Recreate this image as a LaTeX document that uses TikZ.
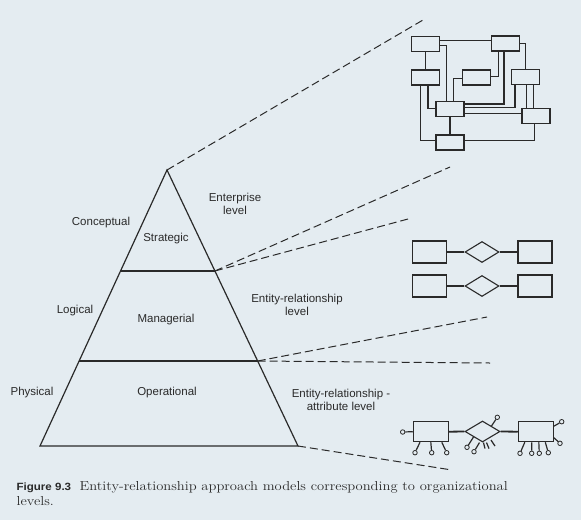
\documentclass[tikz,border=0pt]{standalone}
\usepackage{fontspec}
\setsansfont{Liberation Sans}
\usetikzlibrary{shapes.geometric,calc}
\definecolor{paper}{RGB}{228,236,241}
\definecolor{ink}{RGB}{42,42,42}
\tikzset{
  lbl/.style={font=\sffamily\fontsize{11.5}{12.5}\selectfont,text=ink,inner sep=0pt},
  guide/.style={draw=ink,line width=1pt,dash pattern=on 8pt off 4pt},
  ent/.style={draw=ink,line width=1.3pt,minimum width=28pt,minimum height=15pt,inner sep=0pt},
  bigent/.style={ent,line width=1.1pt,minimum width=34pt,minimum height=22pt},
  rel/.style={draw=ink,line width=1.1pt,diamond,aspect=1.6,minimum width=34pt,minimum height=21pt,inner sep=0pt},
  att/.style={draw=ink,circle,line width=0.8pt,minimum size=4.5pt,inner sep=0pt},
  wire/.style={line width=1.4pt}
}
\begin{document}
\begin{tikzpicture}[x=1pt,y=-1pt,line width=1.2pt,draw=ink]
  \fill[paper] (0,0) rectangle (581,520);

  \coordinate (T) at (167,170);
  \coordinate (SL) at (120.5,271);
  \coordinate (SR) at (214.9,271);
  \coordinate (ML) at (79.1,361);
  \coordinate (MR) at (257.7,361);
  \coordinate (BL) at (40,446);
  \coordinate (BR) at (298,446);

  \draw (T) -- (BL) -- (BR) -- cycle;
  \draw (SL) -- (SR);
  \draw (ML) -- (MR);

  \coordinate (n1) at (423,20);
  \coordinate (n2) at (450,167);
  \coordinate (e1) at (408,219);
  \coordinate (e2) at (487,317);
  \coordinate (p1) at (490,363);
  \coordinate (p2) at (452,470);
  \foreach \a/\b in {T/n1,SR/n2,SR/e1,MR/e2,MR/p1,BR/p2}
    \draw[guide] (\a) -- (\b);

  \node[lbl] (concept) at (101,223) {Conceptual};
  \node[lbl] (strat) at (166,239) {Strategic};
  \node[lbl,align=center] (entlev) at (235,204) {Enterprise\\level};
  \node[lbl] (logic) at (75,311) {Logical};
  \node[lbl] (manag) at (166,320) {Managerial};
  \node[lbl,align=center] (erlev) at (297,305) {Entity-relationship\\level};
  \node[lbl] (phys) at (32,393) {Physical};
  \node[lbl] (oper) at (167,393) {Operational};
  \node[lbl,align=center] (eralev) at (341,400) {Entity-relationship -\\attribute level};

  \foreach \n/\x/\y in {nA/425.5/44,nB/505.5/43.5,nC/425.5/77.5,nD/476.5/77.5,
                        nE/525.5/77.2,nF/450/109,nG/536/116,nH/450/142.5}
    \node[ent] (\n) at (\x,\y) {};

  \begin{scope}[wire]
  \draw ([yshift=3.3pt]nA.east) -- ([yshift=3.3pt]nA.east -| nB.west);
  \draw (nA.south) -- (nC.north);
  \draw ([yshift=-1.5pt]nA.east) -| ([xshift=-3.3pt]nF.north);
  \draw ([yshift=-1pt]nD.west) -| ([xshift=3.3pt]nF.north);
  \draw ([xshift=-5pt]nC.south) |- ([yshift=1.8pt]nH.west);
  \draw ([xshift=2.5pt]nC.south) |- ([yshift=0.7pt]nF.west);
  \draw (nF.south) -- (nH.north);
  \draw ([yshift=1.8pt]nH.east) -| ([xshift=-1.7pt]nG.south);
  \draw (nB.east) -| (nE.north);
  \draw ([xshift=-7.2pt]nB.south) |- ([yshift=0.8pt]nD.east);
  \draw ([xshift=-1.5pt]nB.south) |- ([yshift=5pt]nF.east);
  \draw ([xshift=-10.5pt]nE.south) |- ([yshift=1.7pt]nF.east);
  \draw ([yshift=-4.3pt]nF.east) -- ([yshift=-4.3pt]nF.east -| nG.west);
  \draw ([xshift=1.2pt]nE.south) -- ([xshift=1.2pt]nE.south |- nG.north);
  \draw ([xshift=7.8pt]nE.south) -- ([xshift=7.8pt]nE.south |- nG.north);
  \end{scope}

  \foreach \r/\y in {1/252,2/286} {
    \node[bigent] (r\r l) at (429.7,\y) {};
    \node[rel] (r\r d) at (482,\y) {};
    \node[bigent] (r\r r) at (535,\y) {};
    \draw[line width=1.8pt] (r\r l.east) -- (r\r d.west);
    \draw[line width=1.8pt] (r\r d.east) -- (r\r r.west);
  }

  \node[bigent,minimum width=35pt,minimum height=20pt] (al) at (430.8,431.7) {};
  \node[rel,minimum width=35pt] (ad) at (482.5,431.5) {};
  \node[bigent,minimum width=35pt,minimum height=20pt] (ar) at (535.8,431.7) {};
  \draw[line width=1.8pt] (al.east) -- (ad.west);
  \draw[line width=1.8pt] (ad.east) -- (ar.west);

  \node[att] (al0) at (402.7,432) {};
  \node[att] (al1) at (415,452.7) {};
  \node[att] (al2) at (431.7,452.7) {};
  \node[att] (al3) at (446.7,452.7) {};
  \draw (al0) -- (al.west);
  \draw ([xshift=-10.8pt]al.south) -- (al1);
  \draw (al.south) -- (al2);
  \draw ([xshift=11pt]al.south) -- (al3);

  \node[att] (ad0) at (497.3,417.3) {};
  \node[att] (ad1) at (467,447.3) {};
  \node[att] (ad2) at (474,451.7) {};
  \draw (ad.north east) -- (ad0);
  \draw (ad.south west) -- (ad1);
  \draw ([xshift=-3pt]ad.south) -- (ad2);
  \draw ([xshift=1pt]ad.south) -- ++(1.5,6);
  \draw ([xshift=4pt]ad.south) -- ++(2.5,6);
  \draw ([xshift=8.5pt,yshift=2.5pt]ad.south) -- ++(4,6);

  \node[att] (ar0) at (561.7,421.7) {};
  \node[att] (ar1) at (560,443.3) {};
  \node[att] (ar2) at (520,453.3) {};
  \node[att] (ar3) at (531.7,453.3) {};
  \node[att] (ar4) at (539.3,453.3) {};
  \node[att] (ar5) at (548.3,452.7) {};
  \draw ([yshift=5.5pt]ar.east) -- (ar0);
  \draw ([yshift=-6pt]ar.east) -- (ar1);
  \draw ([xshift=-11pt]ar.south) -- (ar2);
  \draw ([xshift=-4pt]ar.south) -- (ar3);
  \draw ([xshift=3pt]ar.south) -- (ar4);
  \draw ([xshift=9.5pt]ar.south) -- (ar5);

  \node[anchor=base west,inner sep=0pt,text=ink,font=\sffamily\bfseries\fontsize{10.5}{12}\selectfont] (fig) at (16,490)
    {\scalebox{1.1}[1]{Figure 9.3}};
  \node[anchor=base west,inner sep=0pt,text=ink,font=\fontsize{13}{15}\selectfont] (cap1) at (79,490)
    {\scalebox{1.12}[1]{Entity-relationship approach models corresponding to organizational}};
  \node[anchor=base west,inner sep=0pt,text=ink,font=\fontsize{13}{15}\selectfont] (cap2) at (16,505)
    {\scalebox{1.12}[1]{levels.}};
\end{tikzpicture}
\end{document}
